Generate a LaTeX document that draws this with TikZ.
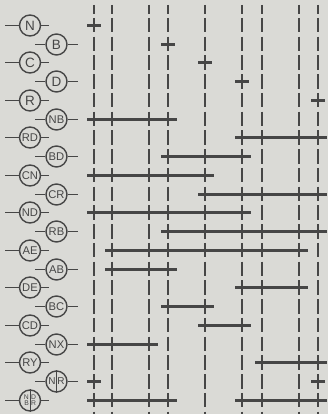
\documentclass[tikz,border=0pt]{standalone}
\usepackage{fontspec}
\setmainfont{Liberation Sans}
\definecolor{paper}{RGB}{218,218,214}
\definecolor{ink}{RGB}{70,70,70}
\newcommand\rbar[3]{\draw[bar] ([xshift=-7pt]#2 |- #1) -- ([xshift=9pt]#3 |- #1);}
\newcommand\rtick[2]{\draw[bar] ([xshift=-7pt]#2 |- #1) -- ([xshift=7pt]#2 |- #1);}
\begin{document}
\begin{tikzpicture}[x=1pt,y=-1pt,
  vline/.style={draw=ink, line width=2pt, dash pattern=on 14.5pt off 4.25pt, dash phase=5.85pt},
  bar/.style={draw=ink, line width=3pt},
  lab/.style={circle, draw=ink, line width=1.4pt, minimum size=21pt, inner sep=0pt, text=ink, font=\fontsize{13.5}{13.5}\selectfont},
  lab2/.style={lab, font=\fontsize{11.2}{11.2}\selectfont},
  half/.style={inner sep=0pt, text=ink, font=\fontsize{10}{10}\selectfont},
  tiny/.style={inner sep=0pt, text=ink, font=\fontsize{6.8}{6.8}\selectfont},
  stub/.style={draw=ink, line width=1.4pt}]
\path[fill=paper, use as bounding box] (0,0) rectangle (328,414);
% columns
\coordinate (colN) at (94,5);
\coordinate (colA) at (112,5);
\coordinate (colX) at (149,5);
\coordinate (colB) at (168,5);
\coordinate (colC) at (205,5);
\coordinate (colD) at (242,5);
\coordinate (colY) at (262,5);
\coordinate (colE) at (299,5);
\coordinate (colR) at (318,5);
\coordinate (bot) at (0,414);
\foreach \c in {colN,colA,colX,colB,colC,colD,colY,colE,colR}
  \draw[vline] (\c) -- (\c |- bot);
% row labels
\node[lab]  (r1)  at (30,25.5)    {N};
\node[lab]  (r2)  at (56.5,44.5)  {B};
\node[lab]  (r3)  at (30,62.5)    {C};
\node[lab]  (r4)  at (56.5,81.5)  {D};
\node[lab]  (r5)  at (30,100.5)   {R};
\node[lab2] (r6)  at (56.5,119.5) {NB};
\node[lab2] (r7)  at (30,137.5)   {RD};
\node[lab2] (r8)  at (56.5,156.5) {BD};
\node[lab2] (r9)  at (30,175.5)   {CN};
\node[lab2] (r10) at (56.5,194.5) {CR};
\node[lab2] (r11) at (30,212.5)   {ND};
\node[lab2] (r12) at (56.5,231.5) {RB};
\node[lab2] (r13) at (30,250.5)   {AE};
\node[lab2] (r14) at (56.5,269.5) {AB};
\node[lab2] (r15) at (30,287.5)   {DE};
\node[lab2] (r16) at (56.5,306.5) {BC};
\node[lab2] (r17) at (30,325.5)   {CD};
\node[lab2] (r18) at (56.5,344.5) {NX};
\node[lab2] (r19) at (30,362.5)   {RY};
\node[lab]  (r20) at (56.5,381.5) {};
\node[lab]  (r21) at (30,400.5)   {};
% split labels
\draw[ink, line width=1.2pt] (r20.north) -- (r20.south);
\node[half, anchor=east] (r20a) at ([xshift=-0.6pt]r20.center) {N};
\node[half, anchor=west] (r20b) at ([xshift=0.6pt]r20.center) {R};
\draw[ink, line width=1pt] (r21.north) -- (r21.south);
\node[tiny, anchor=south east] (r21a) at ([xshift=-1pt,yshift=0.5pt]r21.center) {N};
\node[tiny, anchor=south west] (r21b) at ([xshift=1pt,yshift=0.5pt]r21.center) {D};
\node[tiny, anchor=north east] (r21c) at ([xshift=-1pt,yshift=-0.5pt]r21.center) {B};
\node[tiny, anchor=north west] (r21d) at ([xshift=1pt,yshift=-0.5pt]r21.center) {R};
% stubs
\foreach \r in {r1,r3,r5,r7,r9,r11,r13,r15,r17,r19,r21} {
  \draw[stub] (\r.west) -- ++(-14,0);
  \draw[stub] (\r.east) -- ++(8,0);
}
\foreach \r in {r2,r4,r6,r8,r10,r12,r14,r16,r18,r20} {
  \draw[stub] (\r.west) -- ++(-10.5,0);
  \draw[stub] (\r.east) -- ++(10.5,0);
}
% bars
\rtick{r1}{colN}
\rtick{r2}{colB}
\rtick{r3}{colC}
\rtick{r4}{colD}
\rtick{r5}{colR}
\rbar{r6}{colN}{colB}
\rbar{r7}{colD}{colR}
\rbar{r8}{colB}{colD}
\rbar{r9}{colN}{colC}
\rbar{r10}{colC}{colR}
\rbar{r11}{colN}{colD}
\rbar{r12}{colB}{colR}
\rbar{r13}{colA}{colE}
\rbar{r14}{colA}{colB}
\rbar{r15}{colD}{colE}
\rbar{r16}{colB}{colC}
\rbar{r17}{colC}{colD}
\rbar{r18}{colN}{colX}
\rbar{r19}{colY}{colR}
\rtick{r20}{colN}
\rtick{r20}{colR}
\rbar{r21}{colN}{colB}
\rbar{r21}{colD}{colR}
\end{tikzpicture}
\end{document}
